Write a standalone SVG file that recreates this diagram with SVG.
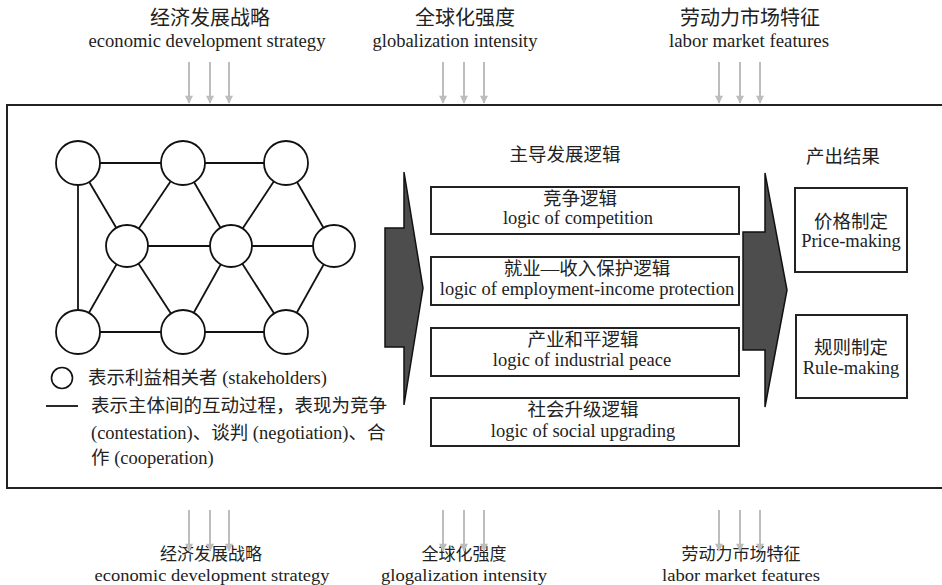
<svg xmlns="http://www.w3.org/2000/svg" width="942" height="585" viewBox="0 0 942 585">
<defs>
<marker id="ah" viewBox="0 0 10 10" refX="9" refY="5" markerWidth="9" markerHeight="8" orient="auto" markerUnits="userSpaceOnUse">
<path d="M0,0 L10,5 L0,10 z" fill="#bdbdbd"/>
</marker>
<style>
text{font-family:"Liberation Serif","Noto Sans CJK SC",serif;fill:#222;text-anchor:middle}
.t{font-size:18.5px}
.lg{text-anchor:start;font-size:18.5px}
.box{fill:#fff;stroke:#222;stroke-width:2}
.arr{stroke:#bdbdbd;stroke-width:2;fill:none}
.ed{stroke:#111;stroke-width:1.8}
.nd{fill:#fff;stroke:#111;stroke-width:1.8}
.big{fill:#4d4d4d;stroke:#111;stroke-width:1.5}
</style>
</defs>
<rect x="0" y="0" width="942" height="585" fill="#fff"/>

<rect id="frame" x="7" y="105" width="945" height="383" fill="none" stroke="#222" stroke-width="2"/>

<g id="top-labels">
<text x="210" y="25" font-size="20">经济发展战略</text>
<text x="207" y="47" font-size="18" textLength="237" lengthAdjust="spacingAndGlyphs">economic development strategy</text>
<text x="465" y="25" font-size="20">全球化强度</text>
<text x="455" y="47" font-size="18" textLength="165" lengthAdjust="spacingAndGlyphs">globalization intensity</text>
<text x="750" y="25" font-size="20">劳动力市场特征</text>
<text x="749" y="47" font-size="18" textLength="160" lengthAdjust="spacingAndGlyphs">labor market features</text>
</g>

<g id="bottom-labels">
<text x="211" y="560" font-size="17">经济发展战略</text>
<text x="212" y="581" font-size="17" textLength="235" lengthAdjust="spacingAndGlyphs">economic development strategy</text>
<text x="464" y="560" font-size="17">全球化强度</text>
<text x="464" y="581" font-size="17" textLength="166" lengthAdjust="spacingAndGlyphs">glogalization intensity</text>
<text x="741" y="560" font-size="17">劳动力市场特征</text>
<text x="741" y="581" font-size="17" textLength="158" lengthAdjust="spacingAndGlyphs">labor market features</text>
</g>

<g id="connectors">
<g class="arr" marker-end="url(#ah)">
<line x1="189" y1="62" x2="189" y2="103"/><line x1="210" y1="62" x2="210" y2="103"/><line x1="229" y1="62" x2="229" y2="103"/>
<line x1="443" y1="62" x2="443" y2="103"/><line x1="464" y1="62" x2="464" y2="103"/><line x1="484" y1="62" x2="484" y2="103"/>
<line x1="719" y1="62" x2="719" y2="103"/><line x1="740" y1="62" x2="740" y2="103"/><line x1="760" y1="62" x2="760" y2="103"/>
<line x1="189" y1="510" x2="189" y2="551"/><line x1="210" y1="510" x2="210" y2="551"/><line x1="229" y1="510" x2="229" y2="551"/>
<line x1="443" y1="510" x2="443" y2="551"/><line x1="464" y1="510" x2="464" y2="551"/><line x1="484" y1="510" x2="484" y2="551"/>
<line x1="719" y1="510" x2="719" y2="551"/><line x1="740" y1="510" x2="740" y2="551"/><line x1="760" y1="510" x2="760" y2="551"/>
</g>
<g class="ed">
<line x1="78" y1="163" x2="183" y2="163"/><line x1="183" y1="163" x2="286" y2="163"/>
<line x1="78" y1="163" x2="78" y2="332"/>
<line x1="78" y1="163" x2="127" y2="246"/><line x1="127" y1="246" x2="183" y2="163"/>
<line x1="183" y1="163" x2="231" y2="246"/><line x1="231" y1="246" x2="286" y2="163"/>
<line x1="286" y1="163" x2="334" y2="246"/>
<line x1="127" y1="246" x2="231" y2="246"/><line x1="231" y1="246" x2="334" y2="246"/>
<line x1="127" y1="246" x2="78" y2="332"/><line x1="127" y1="246" x2="183" y2="332"/>
<line x1="231" y1="246" x2="183" y2="332"/><line x1="231" y1="246" x2="286" y2="332"/>
<line x1="334" y1="246" x2="286" y2="332"/>
<line x1="78" y1="332" x2="183" y2="332"/><line x1="183" y1="332" x2="286" y2="332"/>
</g>
<polygon id="arrow-left" class="big" points="385,228 404,228 404,172 423,288 404,405 404,347 385,347"/>
<polygon id="arrow-right" class="big" points="743,232 765,232 765,173 787,290 765,407 765,350 743,350"/>
</g>

<g id="stakeholders">
<circle id="n1" class="nd" cx="78" cy="163" r="22"/>
<circle id="n2" class="nd" cx="183" cy="163" r="22"/>
<circle id="n3" class="nd" cx="286" cy="163" r="22"/>
<circle id="n4" class="nd" cx="127" cy="246" r="21"/>
<circle id="n5" class="nd" cx="231" cy="246" r="21"/>
<circle id="n6" class="nd" cx="334" cy="246" r="21"/>
<circle id="n7" class="nd" cx="78" cy="332" r="22"/>
<circle id="n8" class="nd" cx="183" cy="332" r="22"/>
<circle id="n9" class="nd" cx="286" cy="332" r="22"/>
</g>

<g id="legend">
<circle cx="62" cy="378" r="10.5" fill="#fff" stroke="#111" stroke-width="1.6"/>
<text class="lg" x="88" y="384">表示利益相关者 (stakeholders)</text>
<line x1="46" y1="406" x2="78" y2="406" stroke="#111" stroke-width="1.8"/>
<text class="lg" x="91" y="412">表示主体间的互动过程，表现为竞争</text>
<text class="lg" x="91" y="439">(contestation)、谈判 (negotiation)、合</text>
<text class="lg" x="91" y="464">作 (cooperation)</text>
</g>

<text id="title-logic" class="t" x="565" y="161">主导发展逻辑</text>
<text id="title-output" class="t" x="843" y="163">产出结果</text>

<g id="logic1"><rect class="box" x="431" y="187" width="308" height="47"/>
<text class="t" x="580" y="205">竞争逻辑</text><text class="t" x="578" y="224">logic of competition</text></g>
<g id="logic2"><rect class="box" x="431" y="257" width="308" height="48"/>
<text class="t" x="587" y="275">就业—收入保护逻辑</text><text class="t" x="587" y="295">logic of employment-income protection</text></g>
<g id="logic3"><rect class="box" x="431" y="328" width="308" height="48"/>
<text class="t" x="583" y="346">产业和平逻辑</text><text class="t" x="582" y="366">logic of industrial peace</text></g>
<g id="logic4"><rect class="box" x="431" y="398" width="308" height="48"/>
<text class="t" x="583" y="416">社会升级逻辑</text><text class="t" x="583" y="437">logic of social upgrading</text></g>

<g id="out1"><rect class="box" x="795" y="188" width="112" height="84"/>
<text class="t" x="851" y="228">价格制定</text><text class="t" x="851" y="247">Price-making</text></g>
<g id="out2"><rect class="box" x="796" y="315" width="111" height="83"/>
<text class="t" x="851" y="354">规则制定</text><text class="t" x="851" y="374">Rule-making</text></g>
</svg>
